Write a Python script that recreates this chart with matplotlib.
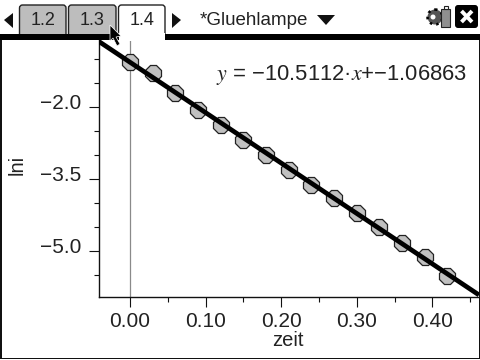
import matplotlib
matplotlib.use("Agg")
import matplotlib.pyplot as plt
from matplotlib.patches import Polygon, Rectangle, FancyBboxPatch, Circle
from matplotlib.ticker import FixedLocator, FixedFormatter
from matplotlib.transforms import ScaledTranslation

zeit = [0.00, 0.03, 0.06, 0.09, 0.12, 0.15, 0.18, 0.21, 0.24, 0.27, 0.30, 0.33, 0.36, 0.39, 0.42]
lni = [-1.06, -1.30, -1.71, -2.06, -2.375, -2.69, -3.00, -3.31, -3.625, -3.91, -4.21, -4.50, -4.84, -5.125, -5.53]
fit_slope = -10.5112
fit_intercept = -1.06863
x_major = [0.0, 0.1, 0.2, 0.3, 0.4]
x_labels = ["0.00", "0.10", "0.20", "0.30", "0.40"]
x_minor = [0.05, 0.15, 0.25, 0.35, 0.45]
y_major = [-2.0, -3.5, -5.0]
y_labels = ["\u22122.0", "\u22123.5", "\u22125.0"]
y_minor = [-1.0, -1.5, -2.5, -3.0, -4.0, -4.5, -5.5]
tab_labels = ["1.2", "1.3", "1.4"]
doc_title = "*Gluehlampe"

plt.rcParams["font.family"] = ["Liberation Sans", "DejaVu Sans"]
plt.rcParams["mathtext.fontset"] = "stix"

W, H = 480, 360
fig = plt.figure(figsize=(4.8, 3.6), dpi=100, facecolor="white")

L, R, T, B = 98.5, 479.0, 40.0, 297.0
ax = fig.add_axes([L / W, (H - B) / H, (R - L) / W, (B - T) / H])
xlim = (-0.0418, 0.4618)
ylim = (-5.965, -0.604)
ax.set_xlim(*xlim)
ax.set_ylim(*ylim)
for s in ("top", "right"):
    ax.spines[s].set_visible(False)
for s in ("left", "bottom"):
    ax.spines[s].set_linewidth(1.0)
    ax.spines[s].set_color("#111111")

ax.xaxis.set_major_locator(FixedLocator(x_major))
ax.xaxis.set_major_formatter(FixedFormatter(x_labels))
ax.xaxis.set_minor_locator(FixedLocator(x_minor))
ax.yaxis.set_major_locator(FixedLocator(y_major))
ax.yaxis.set_major_formatter(FixedFormatter(y_labels))
ax.yaxis.set_minor_locator(FixedLocator(y_minor))
ax.tick_params(which="major", length=7.2, width=0.8, color="#111111", labelsize=15,
               labelcolor="#222222", pad=5)
ax.tick_params(axis="x", which="major", pad=3.5)
ax.tick_params(which="minor", length=3.6, width=0.8, color="#111111")
up = ScaledTranslation(0, 0.055, fig.dpi_scale_trans)
for lab in ax.get_yticklabels():
    lab.set_transform(lab.get_transform() + up)

ax.axvline(0, color="#8a8a8a", lw=0.9, zorder=1)
ax.plot(zeit, lni, ls="none", marker="8", ms=12.5, mfc="#c0c0c0", mec="#222222", mew=0.9, zorder=2)
fit_x = list(xlim)
fit_y = [fit_slope * v + fit_intercept for v in fit_x]
ax.plot(fit_x, fit_y, color="black", lw=3.4, zorder=3, solid_capstyle="butt")

# Chrome overlay, in pixel coordinates
ov = fig.add_axes([0, 0, 1, 1], facecolor="none")
ov.set_xlim(0, W)
ov.set_ylim(H, 0)
ov.axis("off")

ov.text(17, 165, "lni", rotation=90, ha="center", va="center", fontsize=14.5, color="#222222")
ov.text(288, 341, "zeit", ha="center", va="center", fontsize=14.5, color="#222222")
ov.text(216, 75, "$y$ = \u221210.5112\u00b7$x$+\u22121.06863", ha="left", va="center",
        fontsize=15.8, color="#222222")

# tabs (drawn first, the header bar covers their lower edge)
tabs = [(19.5, 66, "#bdbdbd"), (68.5, 116, "#bdbdbd"), (118.5, 165, "white")]
for (x0, x1, col), lab in zip(tabs, tab_labels):
    ov.add_patch(FancyBboxPatch((x0 + 2, 7), x1 - x0 - 4, 28, boxstyle="round,pad=2,rounding_size=3",
                                fc=col, ec="#222222", lw=1.0, clip_on=False, zorder=1))
    ov.text((x0 + x1) / 2, 20.5, lab, ha="center", va="center", fontsize=13, color="#222222", zorder=5)

# outer frame and header bar
ov.add_patch(Rectangle((0.0, 34), 1.5, 325, fc="#111111", ec="none", zorder=2))
ov.add_patch(Rectangle((0, 357.5), W, 1.5, fc="#111111", ec="none", zorder=2))
ov.add_patch(Rectangle((478.5, 40), 1.5, 319, fc="#111111", ec="none", zorder=2))
ov.add_patch(Rectangle((0, 34), W, 6, fc="black", ec="none", zorder=2))
ov.add_patch(Rectangle((119, 33), 45.5, 7.5, fc="white", ec="none", zorder=3))

# arrows
ov.add_patch(Polygon([(4, 20), (13, 13), (13, 28)], fc="#111111", ec="none"))
ov.add_patch(Polygon([(181, 20), (172, 13), (172, 28)], fc="#111111", ec="none"))
ov.text(200, 20.5, doc_title, ha="left", va="center", fontsize=13.5, color="#222222")
ov.add_patch(Polygon([(317, 15), (335, 15), (326, 25)], fc="#111111", ec="none"))

# mouse pointer
ov.add_patch(Polygon([(110, 25), (110, 41), (113, 38), (117, 46), (120, 44), (116, 37), (121, 36)],
                     fc="black", ec="white", lw=0.5, zorder=6))

# settings / battery icon
ov.add_patch(Circle((435, 17), 7.5, fc="#555555", ec="black", lw=1.8, ls=":"))
ov.add_patch(Circle((433, 17), 2.5, fc="white", ec="none"))
ov.add_patch(Rectangle((441, 9), 9, 18, fc="#8f8f8f", ec="#222222", lw=0.8))
ov.add_patch(Rectangle((443.5, 5.5), 4, 3.5, fc="white", ec="#222222", lw=0.8))

# close box
ov.add_patch(FancyBboxPatch((457, 7), 19, 19, boxstyle="round,pad=2,rounding_size=3", fc="black", ec="none"))
ov.plot([461.5, 472], [11, 22], color="white", lw=2.8, solid_capstyle="butt")
ov.plot([461.5, 472], [22, 11], color="white", lw=2.8, solid_capstyle="butt")

fig.savefig("out.png", dpi=100, facecolor="white")
